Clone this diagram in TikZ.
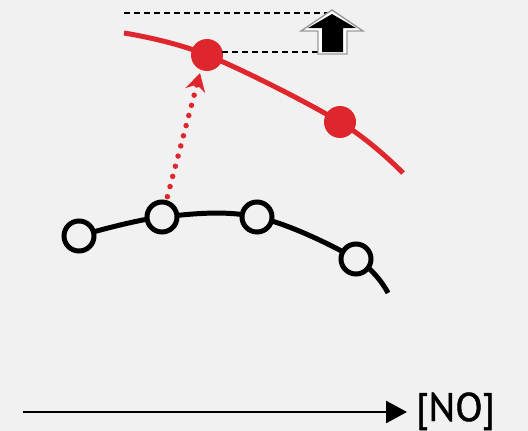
\documentclass[tikz,border=0pt]{standalone}
\usepackage{fontspec}
\setmainfont{PT Sans}
\usetikzlibrary{arrows.meta}
\definecolor{bg}{RGB}{241,241,241}
\definecolor{redline}{RGB}{222,38,44}
\tikzset{
  redpt/.style={circle, fill=redline, inner sep=0pt, minimum size=32pt},
  openpt/.style={circle, draw=black, fill=bg, line width=5pt, inner sep=0pt, minimum size=30pt},
  guide/.style={black, line width=2.6pt, dash pattern=on 6pt off 4pt},
  curve/.style={line width=5pt},
}
\begin{document}
\begin{tikzpicture}[x=1pt, y=-1pt]
  \fill[bg] (0,0) rectangle (528,431);
  \useasboundingbox (0,0) rectangle (528,431);

  % red curve and its points
  \coordinate (rs) at (124,33);
  \coordinate (re) at (403,173);
  \coordinate (r1) at (207,55);
  \coordinate (r2) at (340,122);
  \draw[redline, curve] plot[smooth, tension=0.6] coordinates {(rs) (r1) (r2) (re)};

  % black curve and its points
  \coordinate (b1) at (79,236);
  \coordinate (b2) at (162,217);
  \coordinate (b3) at (257,217);
  \coordinate (b4) at (356,259);
  \coordinate (be) at (388,293);
  \draw[black, curve] plot[smooth, tension=0.6] coordinates {(b1) (b2) (b3) (b4) (be)};

  % dotted shift arrow
  \coordinate (tip) at (200,73);
  \draw[redline, line width=5.5pt, line cap=round, dash pattern=on 0pt off 10.5pt,
        -{Stealth[length=18pt, width=20pt, inset=6pt, line cap=butt]}] (b2) -- (tip);

  \node[openpt] (n1) at (b1) {};
  \node[openpt] (n2) at (b2) {};
  \node[openpt] (n3) at (b3) {};
  \node[openpt] (n4) at (b4) {};
  \node[redpt] (m1) at (r1) {};
  \node[redpt] (m2) at (r2) {};

  % guide lines and block arrow
  \coordinate (g1) at (124,13);
  \coordinate (g2) at (328,13);
  \coordinate (g3) at (222,52);
  \coordinate (g4) at (318,52);
  \draw[guide] (g1) -- (g2);
  \draw[guide] (g3) -- (g4);
  \draw[fill=white, draw=gray!80, line width=1.4pt, line join=miter]
    (318,54) -- (318,31) -- (301,31) -- (332,10) -- (363,31) -- (347,31) -- (347,54) -- cycle;
  \fill[black]
    (322,52) -- (322,28) -- (308,28) -- (332,14) -- (356,28) -- (343,28) -- (343,52) -- cycle;

  % axis
  \node[font=\fontsize{40}{44}\selectfont, anchor=base west, inner sep=0pt,
        text=black, draw=none] (lbl) at (416,421) {\addfontfeature{FakeBold=1.2}[NO]};
  \coordinate (ax) at (23,412);
  \coordinate (axe) at (407,412);
  \draw[black, line width=2.8pt, -{Triangle[length=21pt, width=22pt]}] (ax) -- (axe);
\end{tikzpicture}
\end{document}
